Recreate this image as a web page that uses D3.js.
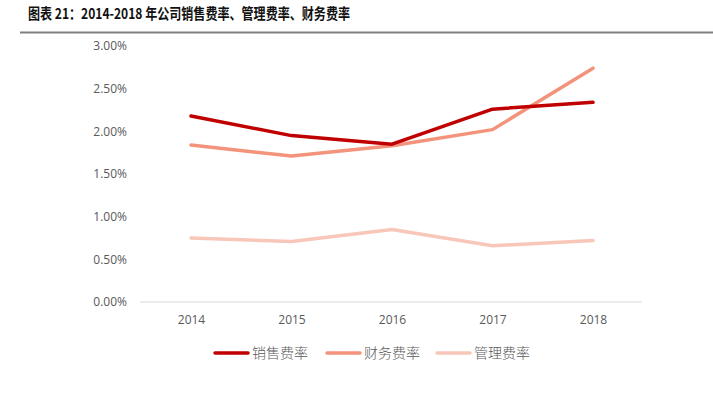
<!DOCTYPE html>
<html>
<head>
<meta charset="utf-8">
<script src="https://cdn.jsdelivr.net/npm/d3@7"></script>
<style>
  body { margin: 0; background: #fff; }
  text { font-family: "Noto Sans CJK SC", "Open Sans", sans-serif; }
</style>
</head>
<body>
<script>
var years = ["2014", "2015", "2016", "2017", "2018"];
var sales = [0.0218, 0.0195, 0.0185, 0.0226, 0.0234];
var finance = [0.0184, 0.0171, 0.0183, 0.0202, 0.0274];
var admin = [0.0075, 0.0071, 0.0085, 0.0066, 0.0072];
var yTicks = [0, 0.005, 0.01, 0.015, 0.02, 0.025, 0.03];

var seriesList = [
  { name: "销售费率", values: sales, color: "#C00000" },
  { name: "财务费率", values: finance, color: "#F4937B" },
  { name: "管理费率", values: admin, color: "#F8C7BA" }
];

var size = ({ width: 713, height: 394 });

var svg = d3.select("body").append("svg")
            .attr("width", size.width)
            .attr("height", size.height);

// title + rule (title font in the original is condensed)
svg.append("text")
   .attr("x", 28)
   .attr("y", 19)
   .attr("font-size", 15)
   .attr("font-weight", "bold")
   .attr("fill", "#111")
   .attr("textLength", 322)
   .attr("lengthAdjust", "spacingAndGlyphs")
   .text("图表 21：2014-2018 年公司销售费率、管理费率、财务费率");
svg.append("line")
   .attr("x1", 20).attr("x2", size.width)
   .attr("y1", 32.5).attr("y2", 32.5)
   .attr("stroke", "#7f7f7f")
   .attr("stroke-width", 2);

var x_scale = d3.scalePoint()
                .domain(years)
                .range([191, 593]);
var y_scale = d3.scaleLinear()
                .domain([0, 0.03])
                .range([302, 46]);

// y labels
svg.append("g")
   .attr("transform", "translate(127,0)")
   .call(d3.axisLeft(y_scale).tickValues(yTicks).tickFormat(d3.format(".2%")).tickSize(0).tickPadding(0))
   .call(g => g.select(".domain").remove())
   .selectAll("text")
   .attr("font-size", 12)
   .attr("fill", "#595959")
   .style("font-family", "'Open Sans', sans-serif");

// x axis
var xAxis = svg.append("g")
   .attr("transform", "translate(0,302)")
   .call(d3.axisBottom(x_scale).tickSize(0).tickPadding(13));
xAxis.select(".domain")
   .attr("d", "M140,0H642")
   .attr("stroke", "#d9d9d9")
   .attr("stroke-width", 1);
xAxis.selectAll("text")
   .attr("font-size", 12)
   .attr("fill", "#595959")
   .style("font-family", "'Open Sans', sans-serif");

var line = d3.line()
             .x((d, i) => x_scale(years[i]))
             .y(d => y_scale(d));

// draw light ones first so the red sits on top
seriesList.slice().reverse().forEach(s => {
  svg.append("path")
     .datum(s.values)
     .attr("d", line)
     .attr("fill", "none")
     .attr("stroke", s.color)
     .attr("stroke-width", 3.5)
     .attr("stroke-linejoin", "round")
     .attr("stroke-linecap", "round");
});

// legend
var legendX = [215, 327, 437];
var legend = svg.selectAll(".leg")
                .data(seriesList)
                .enter()
                .append("g")
                .attr("transform", (d, i) => "translate(" + legendX[i] + ",353)");
legend.append("line")
      .attr("x1", 0).attr("x2", 33)
      .attr("stroke", d => d.color)
      .attr("stroke-width", 3.5)
      .attr("stroke-linecap", "round");
legend.append("text")
      .attr("x", 37)
      .attr("y", 5)
      .attr("font-size", 14)
      .attr("font-weight", 300)
      .attr("fill", "#595959")
      .text(d => d.name);
</script>
</body>
</html>
